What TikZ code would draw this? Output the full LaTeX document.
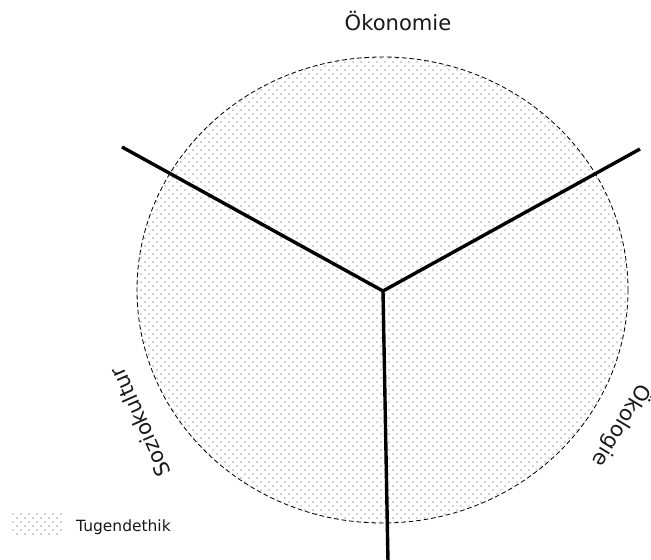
\documentclass[tikz,border=0pt]{standalone}
\usepackage{fontspec}
\setmainfont{DejaVu Sans}
\usepackage{tikz}
\usetikzlibrary{patterns.meta, positioning}
\definecolor{mydark}{RGB}{25,25,25}
\definecolor{dotgray}{RGB}{70,70,70}
\tikzdeclarepattern{
  name=tugenddots,
  type=colored,
  bottom left={(0pt,0pt)},
  top right={(6.8pt,6.8pt)},
  tile size={(6.8pt,6.8pt)},
  code={
    \fill[dotgray] (1.7pt,1.7pt) circle (0.55pt);
    \fill[dotgray] (5.1pt,5.1pt) circle (0.55pt);
  }
}
\tikzset{
  pillar/.style={line width=2.9pt, color=black},
  field/.style={draw=black, line width=0.7pt, dash pattern=on 4pt off 2.4pt,
    pattern=tugenddots},
  dimlabel/.style={font=\fontsize{18}{22}\selectfont, text=mydark, inner sep=0pt},
  legendtext/.style={font=\fontsize{13.2}{16}\selectfont, text=mydark, inner sep=0pt}
}

\begin{document}
\begin{tikzpicture}[x=0.03cm, y=-0.03cm]
  \useasboundingbox (0,0) rectangle (651,559);
  % virtue field
  \fill[white] (0,0) rectangle (651,559);
  \path[field] (382.5,290) ellipse [x radius=245.5, y radius=233];
  % three pillars
  \coordinate (hub) at (383,291);
  \coordinate (oekoend) at (640,149);
  \coordinate (sozend) at (122,147);
  \coordinate (bottomend) at (388,562);
  \draw[pillar] (sozend) -- (hub);
  \draw[pillar] (oekoend) -- (hub);
  \draw[pillar] (hub) -- (bottomend);
  % dimension labels
  \node[dimlabel, anchor=base] (oekonomie) at (398,30) {Ökonomie};
  \node[dimlabel, rotate=114] (sozio) at (140,422) {Soziokultur};
  \node[dimlabel, rotate=239] (oekologie) at (622,426) {Ökologie};
  % legend
  \path[pattern=tugenddots] (11,512) rectangle (63,536);
  \node[legendtext, anchor=west] (tugend) at (76,527) {Tugendethik};
\end{tikzpicture}
\end{document}
